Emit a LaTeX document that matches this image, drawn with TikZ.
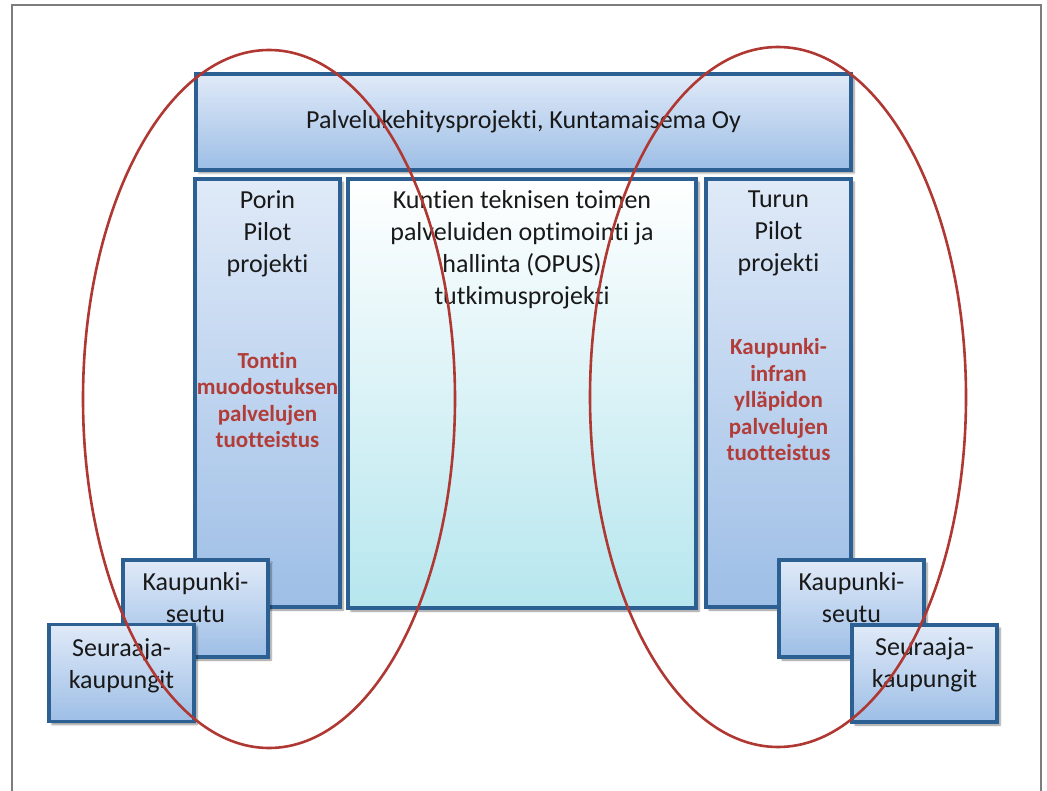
\documentclass[tikz,border=0pt]{standalone}
\usepackage{fontspec}
\setmainfont[Ligatures=NoCommon]{Carlito}
\usepackage{tikz}
\usetikzlibrary{shapes,arrows,positioning,shadows.blur}

\definecolor{boxline}{RGB}{44,96,146}
\definecolor{boxtop}{RGB}{224,234,248}
\definecolor{boxbot}{RGB}{157,190,230}
\definecolor{opustop}{RGB}{255,255,255}
\definecolor{opusbot}{RGB}{182,230,238}
\definecolor{ringred}{RGB}{176,56,50}
\definecolor{taskred}{RGB}{178,60,56}
\definecolor{framegray}{RGB}{125,125,125}
\definecolor{textblack}{RGB}{25,25,25}

\begin{document}
\begin{tikzpicture}[x=1pt,y=-1pt,
    block_base/.style ={rectangle, draw=boxline, line width=3.2pt,
      top color=boxtop, bottom color=boxbot, inner sep=0pt,
      blur shadow={shadow xshift=3pt, shadow yshift=-3pt, shadow opacity=45,
        shadow blur steps=6}},
    block_top/.style ={block_base, minimum width=655pt, minimum height=96pt,
      font=\fontsize{26}{32}\selectfont, text=textblack},
    block_col/.style ={block_base, minimum width=145pt, minimum height=428pt},
    block_opus/.style ={block_base, top color=opustop, bottom color=opusbot,
      minimum width=348pt, minimum height=429pt},
    block_small/.style ={block_base, minimum width=145pt, minimum height=97pt},
    title_text/.style ={inner sep=0pt, align=center, text=textblack,
      font=\fontsize{26}{32}\selectfont},
    task_text/.style ={inner sep=0pt, align=center, text=taskred,
      font=\bfseries\fontsize{23}{26.5}\selectfont},
    ring/.style ={draw=ringred, line width=2.6pt},
    frame_line/.style ={draw=framegray, line width=1.8pt}]
    \useasboundingbox (0,0) rectangle (1047,791);
    % page frame
    \draw[frame_line] (12,800) -- (12,5) -- (1041,5) -- (1041,800);
    % main project on top
    \node[block_top] (kehitys) at (523.5,122)
      {Palvelukehitysprojekti, Kuntamaisema Oy};
    % three columns
    \node[block_col] (porin) at (267.5,393) {};
    \node[block_opus] (opus) at (522,393.5) {};
    \node[block_col] (turun) at (778.5,393) {};
    \node[title_text, below=13pt of porin.north] (porin_title)
      {Porin\\Pilot\\projekti};
    \node[title_text, below=13pt of opus.north] (opus_title)
      {Kuntien teknisen toimen\\palveluiden optimointi ja\\hallinta (OPUS)\\tutkimusprojekti};
    \node[title_text, below=13pt of turun.north] (turun_title)
      {Turun\\Pilot\\projekti};
    \node[task_text, yshift=-7pt] (porin_task) at (porin.center)
      {Tontin\\muodostuksen\\palvelujen\\tuotteistus};
    \node[task_text, yshift=-7pt] (turun_task) at (turun.center)
      {Kaupunki-\\infran\\ylläpidon\\palvelujen\\tuotteistus};
    % regions and followers
    \node[block_small] (seutu_l) at (195.5,608.5) {};
    \node[title_text, below=14pt of seutu_l.north] {Kaupunki-\\seutu};
    \node[block_small] (seuraaja_l) at (121.5,673) {};
    \node[title_text, below=16pt of seuraaja_l.north] {Seuraaja-\\kaupungit};
    \node[block_small] (seutu_r) at (851.5,608.5) {};
    \node[title_text, below=14pt of seutu_r.north] {Kaupunki-\\seutu};
    \node[block_small] (seuraaja_r) at (924.5,673.5) {};
    \node[title_text, below=14pt of seuraaja_r.north] {Seuraaja-\\kaupungit};
    % pilot rings
    \draw[ring] (269,399) ellipse [x radius=186, y radius=349];
    \draw[ring] (778,397) ellipse [x radius=188, y radius=350];
\end{tikzpicture}
\end{document}
